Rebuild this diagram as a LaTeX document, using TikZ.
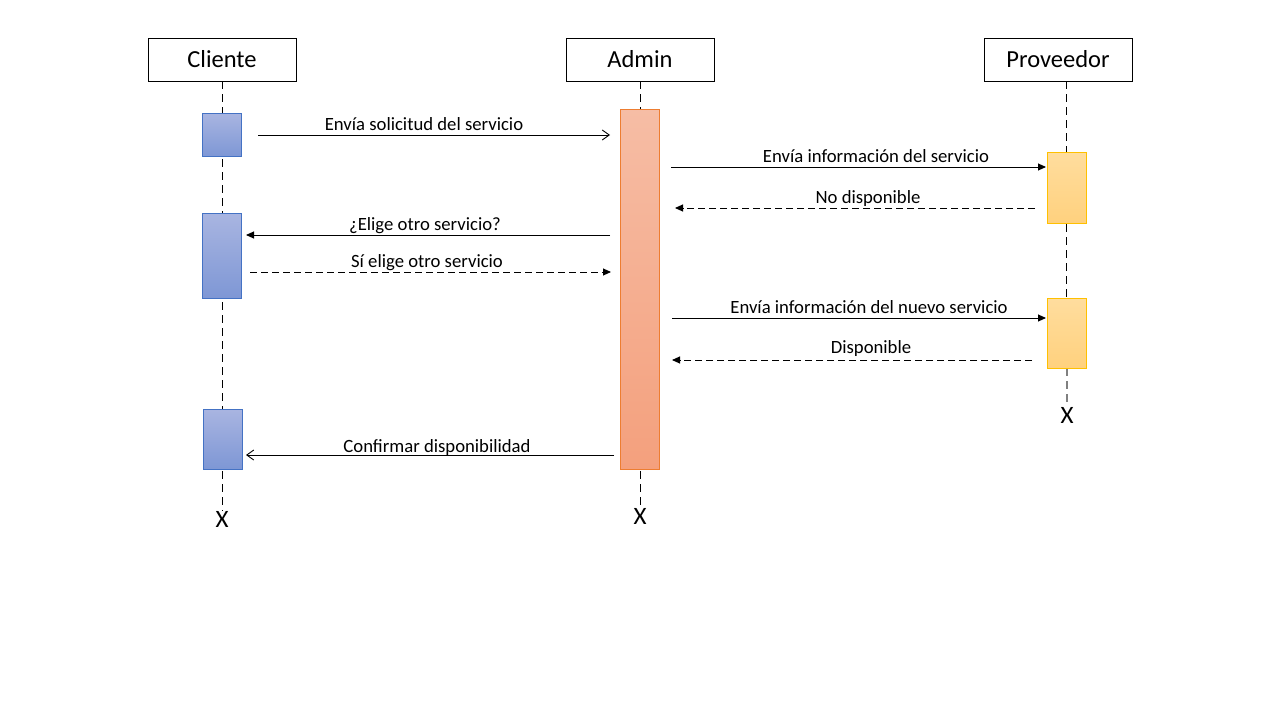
\documentclass[tikz,border=0pt]{standalone}
\usepackage{fontspec}
\setmainfont{Carlito}
\usetikzlibrary{arrows.meta,positioning,calc}
\definecolor{cliTop}{HTML}{A9B5E1}
\definecolor{cliBot}{HTML}{7E97D5}
\definecolor{cliLine}{HTML}{4472C4}
\definecolor{admTop}{HTML}{F6BDA5}
\definecolor{admBot}{HTML}{F4A07D}
\definecolor{admLine}{HTML}{ED7D31}
\definecolor{prvTop}{HTML}{FFDD9E}
\definecolor{prvBot}{HTML}{FFD17E}
\definecolor{prvLine}{HTML}{FFC000}
\begin{document}
\begin{tikzpicture}[x=1pt,y=-1pt,
  header/.style={draw=black,line width=0.8pt,minimum width=148pt,minimum height=43pt,inner sep=0pt,font=\fontsize{24.5}{28}\selectfont},
  endx/.style={inner sep=0pt,font=\fontsize{25}{28}\selectfont},
  life/.style={line width=0.9pt,dash pattern=on 8pt off 5pt},
  actbox/.style={minimum width=39pt,inner sep=0pt,line width=0.9pt},
  cli/.style={actbox,draw=cliLine,top color=cliTop,bottom color=cliBot},
  adm/.style={actbox,draw=admLine,top color=admTop,bottom color=admBot},
  prv/.style={actbox,draw=prvLine,top color=prvTop,bottom color=prvBot},
  msg/.style={line width=0.9pt,-{Triangle[length=8pt,width=7pt]}},
  msgopen/.style={line width=0.9pt,-{Straight Barb[length=7pt,width=10pt,line width=0.9pt]}},
  ret/.style={msg,dash pattern=on 7pt off 4pt},
  lbl/.style={inner sep=0pt,font=\fontsize{18.7}{22}\selectfont,anchor=base}
]
\useasboundingbox (0,0) rectangle (1280,720);
\fill[white] (0,0) rectangle (1280,720);

% headers
\node[header] (hc) at (222,59.5) {Cliente};
\node[header] (ha) at (640,59.5) {Admin};
\node[header] (hp) at (1058,59.5) {Proveedor};

% end markers
\node[endx] (xc) at (222,519) {X};
\node[endx] (xa) at (640,516) {X};
\node[endx] (xp) at (1067,415) {X};

% lifelines
\draw[life] (hc.south) -- (xc.north);
\draw[life] (ha.south) -- (xa.north);
\coordinate (pl) at (1066,81);
\draw[life] (pl) -- (1066,368);
\draw[life,draw=gray,line width=1.6pt] (1067,368) -- (xp.north);

% activation boxes
\node[adm,minimum height=360pt] (a1) at (640,289) {};
\node[cli,minimum height=43pt] (c1) at (221.5,134.5) {};
\node[cli,minimum height=85pt] (c2) at (221.5,255.5) {};
\node[cli,minimum height=60pt] (c3) at (222.5,439) {};
\node[prv,minimum height=71pt] (p1) at (1066.5,187.5) {};
\node[prv,minimum height=70pt] (p2) at (1066.5,333) {};

% message endpoints
\coordinate (m1s) at (258,135);  \coordinate (m1e) at (610,135);
\coordinate (m2s) at (671,167);  \coordinate (m2e) at (1046,167);
\coordinate (m3s) at (1035,208); \coordinate (m3e) at (675,208);
\coordinate (m4s) at (610,235);  \coordinate (m4e) at (246,235);
\coordinate (m5s) at (250,272);  \coordinate (m5e) at (611,272);
\coordinate (m6s) at (672,318);  \coordinate (m6e) at (1046,318);
\coordinate (m7s) at (1032,360); \coordinate (m7e) at (672,360);
\coordinate (m8s) at (614,455);  \coordinate (m8e) at (246,455);

\draw[msgopen] (m1s) -- (m1e);
\draw[msg] (m2s) -- (m2e);
\draw[ret] (m3s) -- (m3e);
\draw[msg] (m4s) -- (m4e);
\draw[ret] (m5s) -- (m5e);
\draw[msg] (m6s) -- (m6e);
\draw[ret] (m7s) -- (m7e);
\draw[msgopen] (m8s) -- (m8e);

% labels
\node[lbl] (l1) at (424,130) {Envía solicitud del servicio};
\node[lbl] (l2) at (876,162) {Envía información del servicio};
\node[lbl] (l3) at (868,203) {No disponible};
\node[lbl] (l4) at (425,230) {¿Elige otro servicio?};
\node[lbl] (l5) at (427,267) {Sí elige otro servicio};
\node[lbl] (l6) at (869,313) {Envía información del nuevo servicio};
\node[lbl] (l7) at (871,353) {Disponible};
\node[lbl] (l8) at (437,452) {Confirmar disponibilidad};
\end{tikzpicture}
\end{document}
